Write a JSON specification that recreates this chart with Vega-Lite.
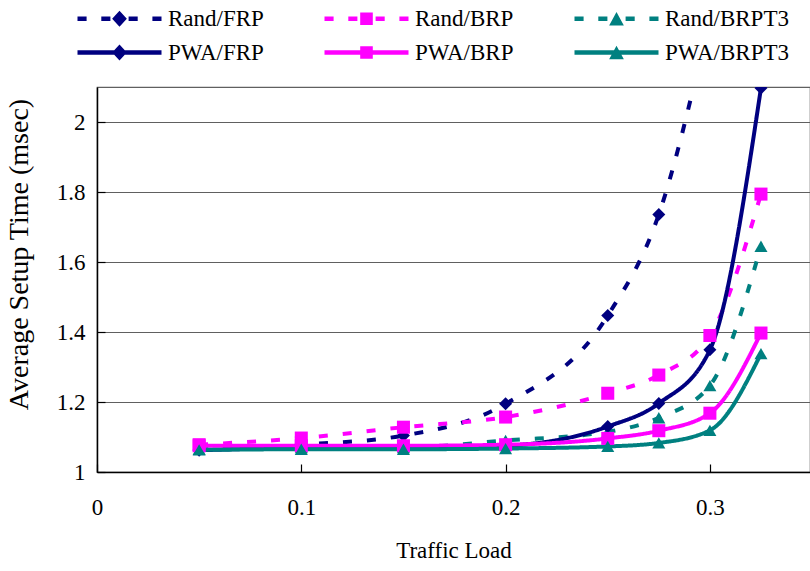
{
  "$schema": "https://vega.github.io/schema/vega-lite/v6.json",
  "width": 713,
  "height": 385,
  "autosize": "none",
  "padding": {"left": 97, "top": 87, "right": 0, "bottom": 99},
  "background": "white",
  "config": {
    "font": "Times New Roman, Liberation Serif, serif",
    "view": {"stroke": "#606060", "strokeWidth": 1.2},
    "axis": {
      "labelFont": "Times New Roman, Liberation Serif, serif",
      "titleFont": "Times New Roman, Liberation Serif, serif",
      "labelFontSize": 23,
      "titleFontSize": 23,
      "titleFontWeight": "normal",
      "labelColor": "black",
      "titleColor": "black",
      "labelFlush": false,
      "domainColor": "black",
      "domainWidth": 1.5,
      "tickColor": "black",
      "tickWidth": 1.2,
      "tickSize": -8
    }
  },
  "data": {
    "values": [
      {"series": "Rand/FRP", "load": 0.05, "time": 1.065},
      {"series": "Rand/FRP", "load": 0.1, "time": 1.078},
      {"series": "Rand/FRP", "load": 0.15, "time": 1.104},
      {"series": "Rand/FRP", "load": 0.2, "time": 1.195},
      {"series": "Rand/FRP", "load": 0.25, "time": 1.447},
      {"series": "Rand/FRP", "load": 0.275, "time": 1.736},
      {"series": "Rand/FRP", "load": 0.3, "time": 2.3},
      {"series": "Rand/BRP", "load": 0.05, "time": 1.078},
      {"series": "Rand/BRP", "load": 0.1, "time": 1.097},
      {"series": "Rand/BRP", "load": 0.15, "time": 1.128},
      {"series": "Rand/BRP", "load": 0.2, "time": 1.157},
      {"series": "Rand/BRP", "load": 0.25, "time": 1.225},
      {"series": "Rand/BRP", "load": 0.275, "time": 1.277},
      {"series": "Rand/BRP", "load": 0.3, "time": 1.39},
      {"series": "Rand/BRP", "load": 0.325, "time": 1.794},
      {"series": "Rand/BRPT3", "load": 0.05, "time": 1.065},
      {"series": "Rand/BRPT3", "load": 0.1, "time": 1.07},
      {"series": "Rand/BRPT3", "load": 0.15, "time": 1.07},
      {"series": "Rand/BRPT3", "load": 0.2, "time": 1.09},
      {"series": "Rand/BRPT3", "load": 0.25, "time": 1.115},
      {"series": "Rand/BRPT3", "load": 0.275, "time": 1.155},
      {"series": "Rand/BRPT3", "load": 0.3, "time": 1.247},
      {"series": "Rand/BRPT3", "load": 0.325, "time": 1.645},
      {"series": "PWA/FRP", "load": 0.05, "time": 1.062},
      {"series": "PWA/FRP", "load": 0.1, "time": 1.068},
      {"series": "PWA/FRP", "load": 0.15, "time": 1.068},
      {"series": "PWA/FRP", "load": 0.2, "time": 1.075},
      {"series": "PWA/FRP", "load": 0.25, "time": 1.13},
      {"series": "PWA/FRP", "load": 0.275, "time": 1.196},
      {"series": "PWA/FRP", "load": 0.3, "time": 1.349},
      {"series": "PWA/FRP", "load": 0.325, "time": 2.097},
      {"series": "PWA/BRP", "load": 0.05, "time": 1.075},
      {"series": "PWA/BRP", "load": 0.1, "time": 1.075},
      {"series": "PWA/BRP", "load": 0.15, "time": 1.075},
      {"series": "PWA/BRP", "load": 0.2, "time": 1.078},
      {"series": "PWA/BRP", "load": 0.25, "time": 1.096},
      {"series": "PWA/BRP", "load": 0.275, "time": 1.118},
      {"series": "PWA/BRP", "load": 0.3, "time": 1.168},
      {"series": "PWA/BRP", "load": 0.325, "time": 1.397},
      {"series": "PWA/BRPT3", "load": 0.05, "time": 1.063},
      {"series": "PWA/BRPT3", "load": 0.1, "time": 1.065},
      {"series": "PWA/BRPT3", "load": 0.15, "time": 1.065},
      {"series": "PWA/BRPT3", "load": 0.2, "time": 1.067},
      {"series": "PWA/BRPT3", "load": 0.25, "time": 1.073},
      {"series": "PWA/BRPT3", "load": 0.275, "time": 1.083},
      {"series": "PWA/BRPT3", "load": 0.3, "time": 1.119},
      {"series": "PWA/BRPT3", "load": 0.325, "time": 1.338}
    ]
  },
  "encoding": {
    "x": {
      "field": "load",
      "type": "quantitative",
      "title": "Traffic Load",
      "scale": {"domain": [0, 0.349], "nice": false, "zero": false},
      "axis": {
        "values": [0, 0.1, 0.2, 0.3],
        "format": "~g",
        "grid": false,
        "labelFont": "Times New Roman, Liberation Serif, serif",
        "titleFont": "Times New Roman, Liberation Serif, serif",
        "labelFlush": false,
        "labelPadding": 32,
        "titleY": 67,
        "titleBaseline": "top"
      }
    },
    "y": {
      "field": "time",
      "type": "quantitative",
      "title": "Average Setup Time (msec)",
      "scale": {"domain": [1, 2.1], "nice": false, "zero": false},
      "axis": {
        "values": [1, 1.2, 1.4, 1.6, 1.8, 2],
        "format": "~g",
        "grid": true,
        "gridColor": "#606060",
        "gridWidth": 1.2,
        "labelFont": "Times New Roman, Liberation Serif, serif",
        "titleFont": "Times New Roman, Liberation Serif, serif",
        "labelFlush": false,
        "labelPadding": 20,
        "titleFontSize": 28,
        "titleX": -64,
        "titleY": 167,
        "titleBaseline": "bottom",
        "titleAngle": -90
      }
    },
    "color": {
      "field": "series",
      "type": "nominal",
      "scale": {
        "domain": ["Rand/FRP", "Rand/BRP", "Rand/BRPT3", "PWA/FRP", "PWA/BRP", "PWA/BRPT3"],
        "range": ["#000080", "#FF00FF", "#008080", "#000080", "#FF00FF", "#008080"]
      },
      "legend": {
        "title": null,
        "orient": "none",
        "legendX": -20,
        "legendY": -80,
        "direction": "horizontal",
        "columns": 3,
        "padding": 0,
        "columnPadding": 60,
        "rowPadding": 10,
        "symbolSize": 196,
        "symbolOffset": 31,
        "symbolStrokeWidth": 0,
        "labelOffset": 37,
        "labelFont": "Times New Roman, Liberation Serif, serif",
        "labelFontSize": 23,
        "labelColor": "black",
        "labelLimit": 300,
        "encode": {
          "symbols": {
            "update": {
              "shape": {"signal": "datum.value == 'Rand/FRP' ? 'M-6,-0.33L-4.7,-0.33L-4.7,0.33L-6,0.33Z M-2.6,-0.33L-1.3,-0.33L-1.3,0.33L-2.6,0.33Z M1.3,-0.33L2.6,-0.33L2.6,0.33L1.3,0.33Z M4.7,-0.33L6,-0.33L6,0.33L4.7,0.33Z M0,-1.15L1.05,0L0,1.15L-1.05,0Z' : datum.value == 'Rand/BRP' ? 'M-6,-0.33L-4.7,-0.33L-4.7,0.33L-6,0.33Z M-2.6,-0.33L-1.3,-0.33L-1.3,0.33L-2.6,0.33Z M1.3,-0.33L2.6,-0.33L2.6,0.33L1.3,0.33Z M4.7,-0.33L6,-0.33L6,0.33L4.7,0.33Z M-0.9,-0.9L0.9,-0.9L0.9,0.9L-0.9,0.9Z' : datum.value == 'Rand/BRPT3' ? 'M-6,-0.33L-4.7,-0.33L-4.7,0.33L-6,0.33Z M-2.6,-0.33L-1.3,-0.33L-1.3,0.33L-2.6,0.33Z M1.3,-0.33L2.6,-0.33L2.6,0.33L1.3,0.33Z M4.7,-0.33L6,-0.33L6,0.33L4.7,0.33Z M0,-0.95L1.05,0.95L-1.05,0.95Z' : datum.value == 'PWA/FRP' ? 'M-6,-0.33L6,-0.33L6,0.33L-6,0.33Z M0,-1.15L1.05,0L0,1.15L-1.05,0Z' : datum.value == 'PWA/BRP' ? 'M-6,-0.33L6,-0.33L6,0.33L-6,0.33Z M-0.9,-0.9L0.9,-0.9L0.9,0.9L-0.9,0.9Z' : 'M-6,-0.33L6,-0.33L6,0.33L-6,0.33Z M0,-0.95L1.05,0.95L-1.05,0.95Z'"},
              "fill": {"scale": "color", "field": "value"},
              "fillOpacity": {"value": 1},
              "strokeWidth": {"value": 0}
            }
          }
        }
      }
    }
  },
  "layer": [
    {
      "mark": {"type": "line", "interpolate": "monotone", "strokeWidth": 4, "clip": true},
      "encoding": {
        "strokeDash": {
          "field": "series",
          "type": "nominal",
          "scale": {
            "domain": ["Rand/FRP", "Rand/BRP", "Rand/BRPT3", "PWA/FRP", "PWA/BRP", "PWA/BRPT3"],
            "range": [[9, 15], [9, 15], [9, 15], [1, 0], [1, 0], [1, 0]]
          }
        }
      }
    },
    {
      "mark": {"type": "point", "filled": true, "opacity": 1, "size": 170, "clip": true},
      "encoding": {
        "shape": {
          "field": "series",
          "type": "nominal",
          "sort": ["Rand/FRP", "Rand/BRP", "Rand/BRPT3", "PWA/FRP", "PWA/BRP", "PWA/BRPT3"],
          "scale": {
            "range": ["diamond", "square", "triangle-up", "diamond", "square", "triangle-up"]
          },
          "legend": null
        }
      }
    }
  ]
}
